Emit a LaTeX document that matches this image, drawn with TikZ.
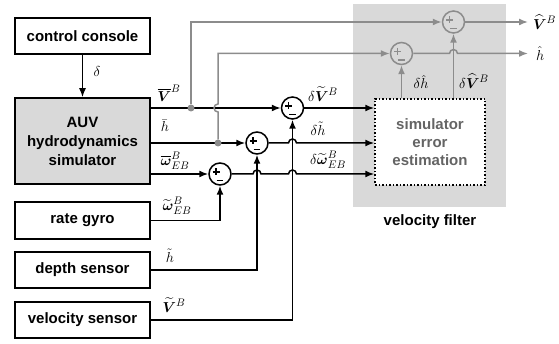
\documentclass[tikz,border=0pt]{standalone}
\usepackage{amsmath,amssymb,bm}
\usepackage{fontspec}
\setmainfont{Liberation Sans}
\usetikzlibrary{arrows.meta,positioning,calc}
\definecolor{linegray}{RGB}{140,140,140}
\definecolor{textgray}{RGB}{100,100,100}
\definecolor{boxgray}{RGB}{217,217,217}

\begin{document}
\begin{tikzpicture}[x=1pt,y=-1pt,
  box/.style={draw,line width=1.5pt,minimum width=135pt,minimum height=36pt,inner sep=0pt,
              align=center,font=\bfseries\fontsize{15}{19}\selectfont},
  sum/.style={circle,draw,line width=1.5pt,minimum size=22pt,inner sep=0pt,
              path picture={\draw[line width=1.4pt]
                ([shift={(-7.5pt,2pt)}]path picture bounding box.center) -- ++(7pt,0pt)
                ([shift={(-4pt,5.5pt)}]path picture bounding box.center) -- ++(0pt,-7pt)
                ([shift={(-3.5pt,-6.5pt)}]path picture bounding box.center) -- ++(6.5pt,0pt);}},
  gsum/.style={sum,linegray,fill=boxgray},
  arr/.style={-{Latex[length=9pt,width=7pt]},line width=1.5pt},
  garr/.style={arr,linegray},
  lbl/.style={font=\fontsize{15}{17}\selectfont,inner sep=0pt},
  dot/.style={circle,fill=linegray,inner sep=0pt,minimum size=7pt}]
\useasboundingbox (0,0) rectangle (559,344);
% velocity filter block
\node[fill=boxgray,minimum width=153pt,minimum height=203pt,inner sep=0pt] (filt) at (429.5,105.5) {};
\node[font=\bfseries\fontsize{15}{17}\selectfont] (filtlbl) at (430,222) {velocity filter};
\node[box,dotted,fill=white,text=textgray,minimum width=110pt,minimum height=86pt,
      font=\bfseries\fontsize{15}{18}\selectfont] (est) at (430,142) {simulator\\error\\estimation};
% left blocks
\node[box] (console) at (82.5,36) {control console};
\node[box,fill=boxgray,minimum height=86pt] (auv) at (82.5,141) {AUV\\hydrodynamics\\simulator};
\node[box,minimum height=37pt] (gyro) at (82.5,220.5) {rate gyro};
\node[box] (depth) at (82.5,270) {depth sensor};
\node[box] (vsens) at (82.5,320) {velocity sensor};
% summing points
\node[sum] (sV) at (292.5,108) {};
\node[sum] (sh) at (257,143) {};
\node[sum] (sw) at (220,174) {};
\node[gsum] (sHV) at (453.5,22) {};
\node[gsum] (sHh) at (401.5,53.5) {};
\coordinate (outV) at (528,22);
\coordinate (outh) at (528,53.5);
% black signal lines
\draw[arr](console)--(auv);
\draw[arr](auv.east |- sV)--(sV);
\draw[arr](auv.east |- sh)--(sh);
\draw[arr](auv.east |- sw)--(sw);
\draw[arr](gyro)--(gyro -| sw)--(sw);
\draw[arr](depth)--(depth -| sh)--(sh);
\draw[arr](vsens)--(vsens -| sV)--(sV);
\draw[arr](sV)--(est.west |- sV);
\draw[arr](sh)--(288.5,143) arc[start angle=180,end angle=0,radius=4pt]--(est.west |- sh);
\draw[arr](sw)--(253,174) arc[start angle=180,end angle=0,radius=4pt]
              --(288.5,174) arc[start angle=180,end angle=0,radius=4pt]--(est.west |- sw);
% gray filter lines
\node[dot] (dV) at (191,108) {};
\node[dot] (dh) at (218,143) {};
\draw[garr](dV)--(dV |- sHV)--(sHV);
\draw[garr](dh)--(218,112) arc[start angle=270,end angle=90,radius=4pt]--(218,53.5)--(sHh);
\draw[garr](est.north -| sHh)--(sHh);
\draw[garr](est.north -| sHV)--(sHV);
\draw[garr](sHV)--(outV);
\draw[garr](sHh)--(449.5,53.5) arc[start angle=180,end angle=0,radius=4pt]--(outh);
% signal labels
\node[lbl] (ldelta) at (97,72) {$\delta$};
\node[lbl] (lVbar) at (169,93) {$\overline{\bm{V}}^{B}$};
\node[lbl] (lhbar) at (165,126) {$\bar{h}$};
\node[lbl] (lwbar) at (175,161) {$\overline{\bm{\omega}}{}^{B}_{EB}$};
\node[lbl] (lwtil) at (177,206) {$\widetilde{\bm{\omega}}{}^{B}_{EB}$};
\node[lbl] (lhtil) at (170,256) {$\tilde{h}$};
\node[lbl] (lVtil) at (174,305) {$\widetilde{\bm{V}}^{B}$};
\node[lbl] (ldV) at (323,94) {$\delta\widetilde{\bm{V}}^{B}$};
\node[lbl] (ldh) at (318,129) {$\delta\tilde{h}$};
\node[lbl] (ldw) at (328,160) {$\delta\widetilde{\bm{\omega}}{}^{B}_{EB}$};
\node[lbl] (ldhh) at (421,82) {$\delta\hat{h}$};
\node[lbl] (ldVh) at (474,81) {$\delta\widehat{\bm{V}}^{B}$};
\node[lbl,right=5pt of outV] (lVhat) {$\widehat{\bm{V}}^{B}$};
\node[lbl,right=8pt of outh] (lhhat) {$\hat{h}$};
\end{tikzpicture}
\end{document}
